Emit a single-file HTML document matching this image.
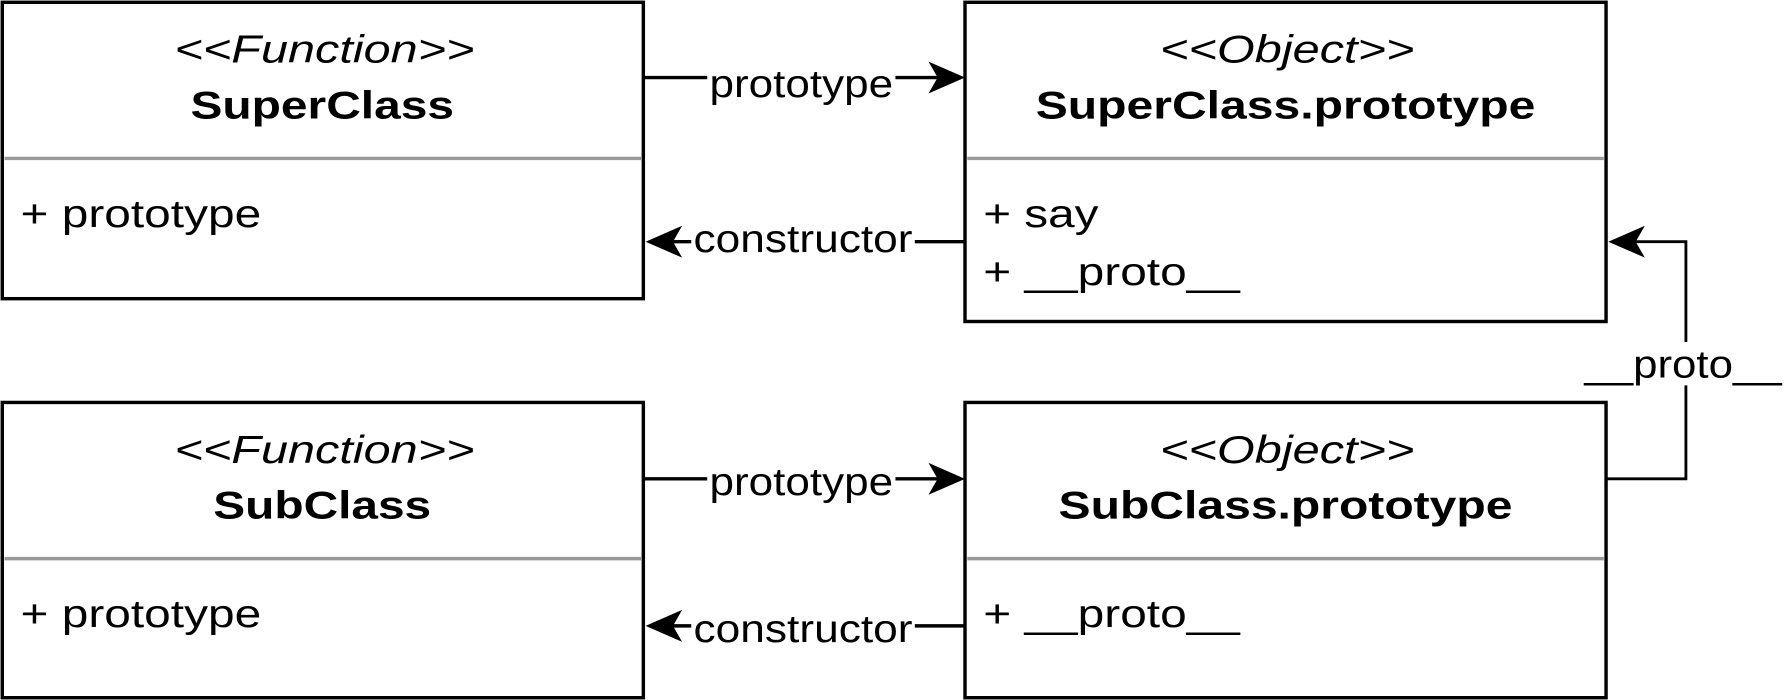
<!DOCTYPE html>
<html><head><style>html,body{margin:0;padding:0;background:#fff;}svg{display:block}</style></head><body>
<svg width="1784" height="700" viewBox="0 0 1564 614" preserveAspectRatio="none" xmlns="http://www.w3.org/2000/svg" font-family="Liberation Sans, Arial, sans-serif" font-size="34">
<g fill="#fff" stroke="#000" stroke-width="3">
<rect x="2" y="2" width="562" height="260"/>
<rect x="846" y="2" width="562" height="280"/>
<rect x="2" y="353" width="562" height="259"/>
<rect x="846" y="353" width="562" height="259"/>
</g>
<g stroke="#999" stroke-width="3">
<line x1="4" y1="139" x2="562" y2="139"/>
<line x1="848" y1="139" x2="1406" y2="139"/>
<line x1="4" y1="490" x2="562" y2="490"/>
<line x1="848" y1="490" x2="1406" y2="490"/>
</g>
<g stroke="#000" stroke-width="3" fill="none">
<line x1="564" y1="68" x2="830" y2="68"/>
<line x1="846" y1="212" x2="580" y2="212"/>
<line x1="564" y1="420" x2="830" y2="420"/>
<line x1="846" y1="549" x2="580" y2="549"/>
<polyline points="1408,420 1478,420 1478,212 1424,212" stroke-width="2.5"/>
</g>
<g fill="#000">
<path d="M846,68 L814,54 L822,68 L814,82 Z"/>
<path d="M566,212 L598,198 L590,212 L598,226 Z"/>
<path d="M846,420 L814,406 L822,420 L814,434 Z"/>
<path d="M566,549 L598,535 L590,549 L598,563 Z"/>
<path d="M1410,212 L1442,198 L1434,212 L1442,226 Z"/>
</g>
<g fill="#fff">
<rect x="620" y="55" width="165" height="34"/>
<rect x="606" y="195" width="196" height="34"/>
<rect x="620" y="405" width="165" height="34"/>
<rect x="606" y="533" width="196" height="34"/>
<rect x="1387" y="300" width="177" height="38"/>
</g>
<g fill="#000">
<text x="153" y="55" font-style="italic" textLength="263" lengthAdjust="spacingAndGlyphs">&lt;&lt;Function&gt;&gt;</text>
<text x="167" y="104" font-weight="bold" textLength="231" lengthAdjust="spacingAndGlyphs">SuperClass</text>
<text x="18" y="199" textLength="211" lengthAdjust="spacingAndGlyphs">+ prototype</text>
<text x="1017" y="55" font-style="italic" textLength="223" lengthAdjust="spacingAndGlyphs">&lt;&lt;Object&gt;&gt;</text>
<text x="908" y="104" font-weight="bold" textLength="438" lengthAdjust="spacingAndGlyphs">SuperClass.prototype</text>
<text x="862" y="199" textLength="101" lengthAdjust="spacingAndGlyphs">+ say</text>
<text x="862" y="250" textLength="225" lengthAdjust="spacingAndGlyphs">+ __proto__</text>
<text x="153" y="406" font-style="italic" textLength="263" lengthAdjust="spacingAndGlyphs">&lt;&lt;Function&gt;&gt;</text>
<text x="187" y="455" font-weight="bold" textLength="191" lengthAdjust="spacingAndGlyphs">SubClass</text>
<text x="18" y="550" textLength="211" lengthAdjust="spacingAndGlyphs">+ prototype</text>
<text x="1017" y="406" font-style="italic" textLength="223" lengthAdjust="spacingAndGlyphs">&lt;&lt;Object&gt;&gt;</text>
<text x="928" y="455" font-weight="bold" textLength="398" lengthAdjust="spacingAndGlyphs">SubClass.prototype</text>
<text x="862" y="550" textLength="225" lengthAdjust="spacingAndGlyphs">+ __proto__</text>
<text x="622" y="85" textLength="161" lengthAdjust="spacingAndGlyphs">prototype</text>
<text x="608" y="221" textLength="192" lengthAdjust="spacingAndGlyphs">constructor</text>
<text x="622" y="434" textLength="161" lengthAdjust="spacingAndGlyphs">prototype</text>
<text x="608" y="563" textLength="192" lengthAdjust="spacingAndGlyphs">constructor</text>
<text x="1389" y="331" textLength="173" lengthAdjust="spacingAndGlyphs">__proto__</text>
</g>
</svg>
</body></html>
